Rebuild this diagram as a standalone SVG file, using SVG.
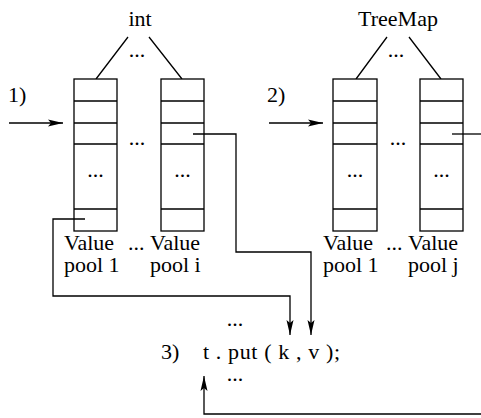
<svg xmlns="http://www.w3.org/2000/svg" width="481" height="418" viewBox="0 0 481 418">
<style>
text{font-family:"Liberation Serif","Times New Roman",serif;font-size:22px;fill:#000}
.ln{fill:none;stroke:#000;stroke-width:1.3}
.box{fill:#fff;stroke:#000;stroke-width:1.3}
.c{text-anchor:middle}
</style>
<defs>
<marker id="ah" markerWidth="16" markerHeight="10" refX="15" refY="5" orient="auto" markerUnits="userSpaceOnUse">
<path d="M0,1.5 L15,5 L0,8.5 L3,5 Z" fill="#000"/>
</marker>
</defs>
<rect width="481" height="418" fill="#fff"/>
<g id="int-label"><text class="c" x="140" y="26">int</text><text class="c" x="137" y="57">...</text>
<path class="ln" d="M96,79 L128,37 M149,37 L182,79"/></g>
<g id="treemap-label"><text class="c" x="398" y="26">TreeMap</text><text class="c" x="396" y="57">...</text>
<path class="ln" d="M356,79 L387,37 M409,37 L441,79"/></g>
<g id="step1"><text x="8" y="102">1)</text></g>
<g id="step2"><text x="267" y="102">2)</text></g>
<g id="int-pool1"><rect class="box" x="74" y="79" width="43" height="152"/><path class="ln" d="M74,101H117M74,123H117M74,144H117M74,209H117"/><text class="c" x="95.5" y="177">...</text></g>
<text class="c" x="137" y="145">...</text>
<g id="int-pooli"><rect class="box" x="161" y="79" width="43" height="152"/><path class="ln" d="M161,101H204M161,123H204M161,144H204M161,209H204"/><text class="c" x="182.5" y="177">...</text></g>
<g id="tm-pool1"><rect class="box" x="333" y="79" width="44" height="152"/><path class="ln" d="M333,101H377M333,123H377M333,144H377M333,209H377"/><text class="c" x="355" y="177">...</text></g>
<text class="c" x="398" y="145">...</text>
<g id="tm-poolj"><rect class="box" x="420" y="79" width="43" height="152"/><path class="ln" d="M420,101H463M420,123H463M420,144H463M420,209H463"/><text class="c" x="441.5" y="177">...</text></g>
<g id="labels-int"><text x="64" y="250">Value</text><text x="128" y="250">...</text><text x="150" y="250">Value</text><text x="64" y="272">pool 1</text><text x="150" y="272">pool i</text></g>
<g id="labels-tm"><text x="323" y="250">Value</text><text x="386" y="250">...</text><text x="408" y="250">Value</text><text x="323" y="272">pool 1</text><text x="408" y="272">pool j</text></g>
<g id="code"><text class="c" x="235" y="326">...</text><text x="161" y="359">3)</text><text x="203" y="359" xml:space="preserve" textLength="137" lengthAdjust="spacing">t . put ( k , v );</text><text class="c" x="235" y="381">...</text></g>
<g id="connectors">
<path class="ln" d="M9,123H63" marker-end="url(#ah)"/>
<path class="ln" d="M269,123H323" marker-end="url(#ah)"/>
<path class="ln" d="M85,219H53V296H290V335" marker-end="url(#ah)"/>
<path class="ln" d="M193,134H236V252H311V335" marker-end="url(#ah)"/>
<path class="ln" d="M452,134H481"/>
<path class="ln" d="M481,414H204V376" marker-end="url(#ah)"/>
</g>
</svg>
